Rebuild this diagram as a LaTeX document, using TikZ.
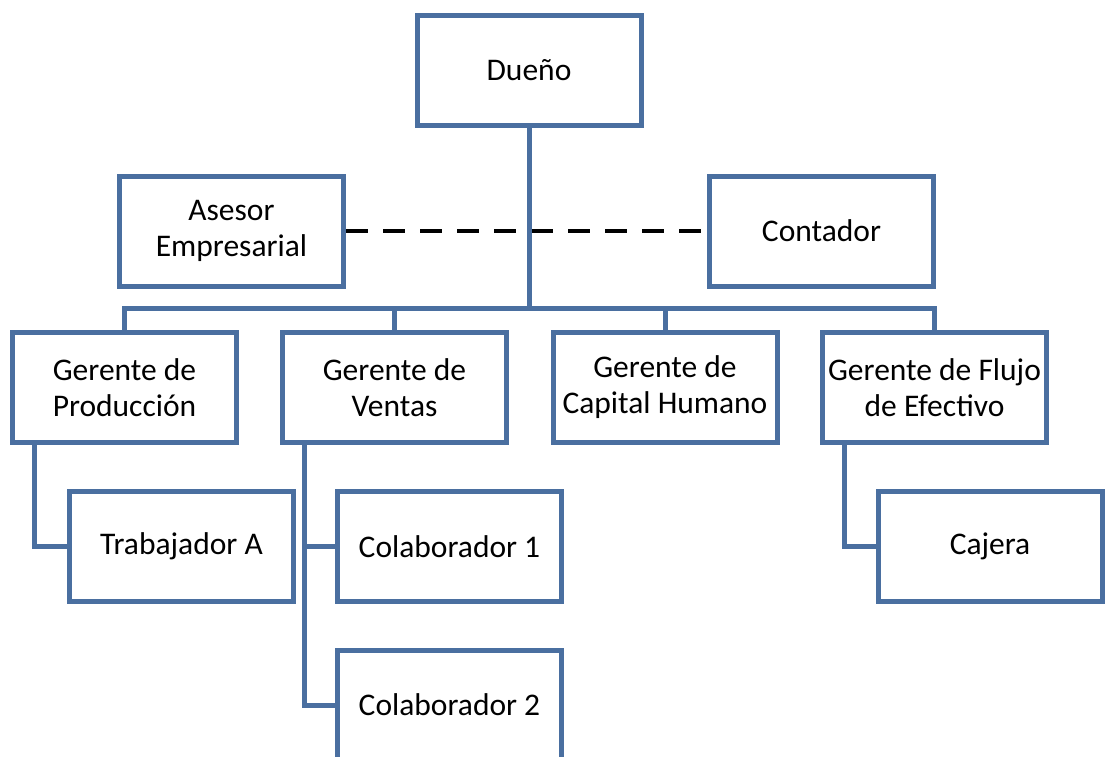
\documentclass[tikz,border=0pt]{standalone}
\usepackage{fontspec}
\setmainfont{Carlito}
\usepackage{xcolor}
\usetikzlibrary{positioning}

\definecolor{orgblue}{RGB}{74,111,160}

\tikzset{
    cargo/.style = {draw = orgblue, line width = 5pt, fill = white,
        minimum width = 224pt, minimum height = 110pt, inner sep = 0pt,
        align = center, font = \fontsize{31.5}{36}\selectfont},
    enlace/.style = {draw = orgblue, line width = 5pt},
    asesoria/.style = {draw = black, line width = 4.5pt,
        dash pattern = on 22pt off 15pt}
}

\begin{document}
\begin{tikzpicture}[x = 1pt, y = -1pt]
        \fill[white] (0, 0) rectangle (1108, 757);
        \clip (0, 0) rectangle (1108, 757);

        % top
        \node[cargo] (dueno) at (529, 70.5) {Dueño};
        \node[cargo] (asesor) at (231.5, 231) {Asesor\\Empresarial};
        \node[cargo] (contador) at (821.5, 231) {Contador};

        % gerentes
        \node[cargo] (produccion) at (124.5, 387.5) {Gerente de\\Producción};
        \node[cargo] (ventas) at (394.5, 387.5) {Gerente de\\Ventas};
        \node[cargo] (capital) at (665, 387.5) {Gerente de\\Capital Humano};
        \node[cargo] (flujo) at (934.5, 387.5) {Gerente de Flujo\\de Efectivo};

        % personal
        \node[cargo] (trabajador) at (181.5, 546.5) {Trabajador A};
        \node[cargo] (colab1) at (449.5, 546.5) {Colaborador 1};
        \node[cargo] (colab2) at (449.5, 705) {Colaborador 2};
        \node[cargo] (cajera) at (990, 546.5) {Cajera};

        \draw[asesoria] (asesor.east) -- (contador.west);

        \coordinate (bus) at (529, 308);
        \draw[enlace] (dueno.south) -- (bus);
        \draw[enlace] (bus) -| (produccion.north);
        \draw[enlace] (bus) -| (ventas.north);
        \draw[enlace] (bus) -| (capital.north);
        \draw[enlace] (bus) -| (flujo.north);

        \coordinate (ramal) at ([xshift = 24pt]ventas.south west);
        \draw[enlace] ([xshift = 24pt]produccion.south west) |- (trabajador.west);
        \draw[enlace] (ramal) |- (colab2.west);
        \draw[enlace] (ramal |- colab1.west) -- (colab1.west);
        \draw[enlace] ([xshift = 24pt]flujo.south west) |- (cajera.west);
\end{tikzpicture}
\end{document}
